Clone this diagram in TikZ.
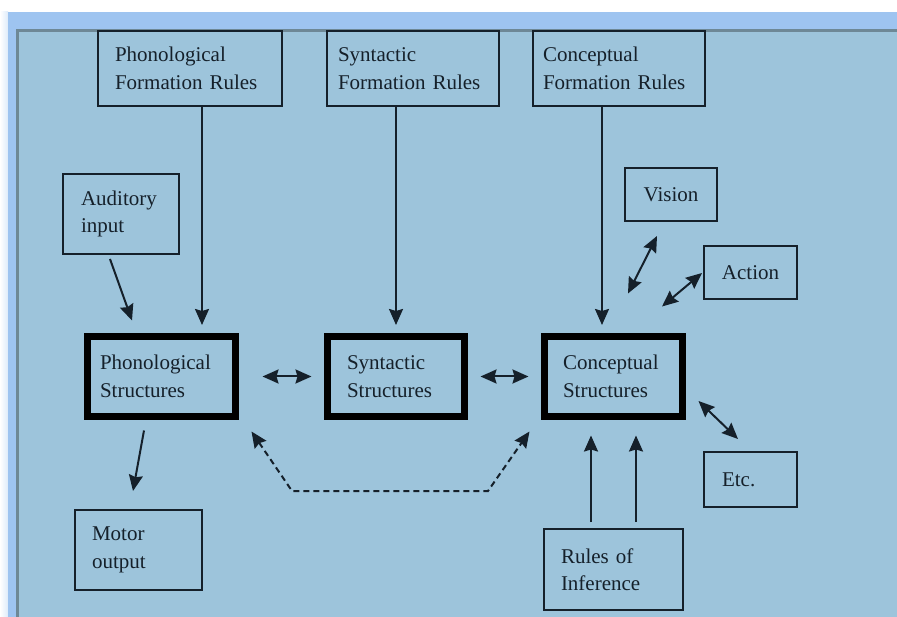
\documentclass[tikz,border=0pt]{standalone}
\usepackage{fontspec}
\setmainfont{Liberation Serif}
\usetikzlibrary{arrows.meta,calc}
\definecolor{panel}{HTML}{9DC4DB}
\definecolor{band}{HTML}{9EC4F0}
\definecolor{ink}{HTML}{15202A}
\definecolor{edge}{HTML}{6E8896}
\begin{document}
\begin{tikzpicture}[x=1pt,y=-1pt,
  >={Stealth[length=16pt,width=14pt,inset=2pt]},
  bx/.style={draw=ink, line width=2pt, align=left, inner ysep=0pt, text=ink,
             font=\fontsize{21}{27.5}\selectfont},
  thick box/.style={bx, draw=black, line width=7pt},
  arr/.style={draw=ink, line width=2pt, ->},
  darr/.style={draw=ink, line width=2pt, <->},
  dashline/.style={draw=ink, line width=2pt, dash pattern=on 6pt off 4pt, <->}]
\useasboundingbox (0,0) rectangle (897,617);
\fill[white] (0,0) rectangle (897,617);
\shade[left color=white, right color=band!35] (0,12) rectangle (8,617);
\fill[band] (8,12) rectangle (897,617);
\fill[panel] (17,31) rectangle (897,617);
\draw[edge, line width=3pt] (17,617) -- (17,31) -- (897,31);

% top rule boxes
\node[bx, minimum width=184, minimum height=75, inner xsep=17, text width=150] (pfr) at (190,68.5) {Phonological\\Formation Rules};
\node[bx, minimum width=172, minimum height=75, inner xsep=11, text width=150] (sfr) at (413,68.5) {Syntactic\\Formation Rules};
\node[bx, minimum width=172, minimum height=75, inner xsep=10, text width=152] (cfr) at (619,68.5) {Conceptual\\Formation Rules};

% side boxes
\node[bx, minimum width=116, minimum height=80, inner xsep=18, text width=80] (aud) at (121,214) {Auditory\\input};
\node[bx, minimum width=92, minimum height=53, align=center] (vision) at (671,194.5) {Vision};
\node[bx, minimum width=93, minimum height=53, align=center] (action) at (750.5,272.5) {Action};
\node[bx, minimum width=127, minimum height=80, inner xsep=17, text width=93] (motor) at (138.5,550) {Motor\\output};
\node[bx, minimum width=93, minimum height=55, inner xsep=18, text width=57] (etc) at (750.5,479.5) {Etc.};
\node[bx, minimum width=139, minimum height=81, inner xsep=17, text width=105] (roi) at (613.5,569.5) {Rules of\\Inference};

% structures
\node[thick box, minimum width=148, minimum height=80, inner xsep=12.5, text width=123] (ps) at (161.5,376.5) {Phonological\\Structures};
\node[thick box, minimum width=137, minimum height=80, inner xsep=19.5, text width=98] (ss) at (396,376.5) {Syntactic\\Structures};
\node[thick box, minimum width=138, minimum height=80, inner xsep=18.5, text width=101] (cs) at (613.5,376.5) {Conceptual\\Structures};

% formation rules arrows
\draw[arr, shorten >=8pt] ([xshift=12pt]pfr.south) -- ([xshift=12pt]pfr.south |- ps.north);
\draw[arr, shorten >=8pt] ([xshift=-17pt]sfr.south) -- (ss.north);
\draw[arr, shorten >=8pt] ([xshift=-17pt]cfr.south) -- ([xshift=-17pt]cfr.south |- cs.north);

% auditory / motor
\draw[arr] ([shift={(-11,4)}]aud.south) -- ([shift={(-29.5,-12.5)}]ps.north);
\draw[arr] ([shift={(-17.5,10.5)}]ps.south) -- ([shift={(-5.5,-18)}]motor.north);

% between structures
\draw[darr, shorten <=23.5pt, shorten >=12.5pt] (ps.east) -- (ss.west);
\draw[darr, shorten <=12.5pt, shorten >=12.5pt] (ss.east) -- (cs.west);

% conceptual satellites
\draw[darr] ([shift={(14.5,-39.5)}]cs.north) -- ([shift={(-14,14)}]vision.south);
\draw[darr] ([shift={(48.5,-26.5)}]cs.north) -- ([shift={(-1,0.5)}]action.west);
\draw[darr] ([shift={(12.5,24.5)}]cs.east) -- ([shift={(-12.5,-12)}]etc.north);

% rules of inference
\draw[arr] ([shift={(-22.5,-6)}]roi.north) -- ([shift={(-22.5,15.5)}]cs.south);
\draw[arr] ([shift={(22.5,-6)}]roi.north) -- ([shift={(22.5,15.5)}]cs.south);

% dashed link
\coordinate (d1) at (292,491);
\coordinate (d2) at (488,491);
\draw[dashline] ([shift={(12.5,11.5)}]ps.south east) -- (d1) -- (d2) -- ([shift={(-11.5,11.5)}]cs.south west);
\end{tikzpicture}
\end{document}
